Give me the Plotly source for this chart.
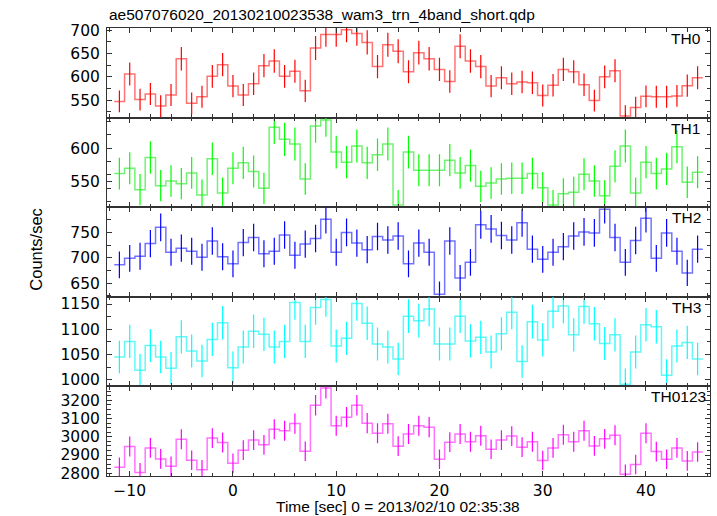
import plotly.graph_objects as go
from plotly.subplots import make_subplots

time = list(range(-11, 46))

th0 = [547, 606, 551, 563, 537, 561, 639, 543, 557, 601, 626, 580, 561, 585, 624, 634, 601, 612, 570, 662,
       691, 691, 701, 693, 674, 622, 669, 655, 611, 652, 639, 616, 590, 666, 634, 622, 580, 598, 585, 589,
       587, 560, 582, 616, 611, 583, 549, 600, 613, 516, 534, 558, 557, 557, 559, 581, 598]
th0_err = [23.4, 24.6, 23.5, 23.7, 23.2, 23.7, 25.3, 23.3, 23.6, 24.5, 25.0, 24.1, 23.7, 24.2, 25.0, 25.2, 24.5,
           24.7, 23.9, 25.7, 26.3, 26.3, 26.5, 26.3, 26.0, 24.9, 25.9, 25.6, 24.7, 25.5, 25.3, 24.8, 24.3, 25.8,
           25.2, 24.9, 24.1, 24.5, 24.2, 24.3, 24.2, 23.7, 24.1, 24.8, 24.7, 24.1, 23.4, 24.5, 24.8, 22.7, 23.1,
           23.6, 23.6, 23.6, 23.6, 24.1, 24.5]

th1 = [562, 570, 538, 586, 544, 551, 547, 563, 530, 584, 533, 570, 578, 565, 540, 631, 613, 606, 554, 633,
       642, 594, 579, 603, 578, 590, 606, 515, 594, 567, 567, 567, 582, 563, 574, 543, 548, 554, 555, 555,
       562, 541, 515, 532, 534, 561, 551, 529, 573, 603, 533, 579, 562, 569, 602, 549, 564]
th1_err = [23.7, 23.9, 23.2, 24.2, 23.3, 23.5, 23.4, 23.7, 23.0, 24.2, 23.1, 23.9, 24.0, 23.8, 23.2, 25.1, 24.8,
           24.6, 23.5, 25.2, 25.3, 24.4, 24.1, 24.6, 24.0, 24.3, 24.6, 22.7, 24.4, 23.8, 23.8, 23.8, 24.1, 23.7,
           24.0, 23.3, 23.4, 23.5, 23.6, 23.6, 23.7, 23.3, 22.7, 23.1, 23.1, 23.7, 23.5, 23.0, 23.9, 24.6, 23.1,
           24.1, 23.7, 23.9, 24.5, 23.4, 23.7]

th2 = [686, 699, 703, 728, 760, 711, 719, 713, 701, 733, 702, 688, 730, 740, 708, 713, 745, 705, 727, 738,
       776, 711, 750, 729, 716, 742, 735, 743, 688, 729, 711, 628, 733, 660, 691, 765, 757, 744, 735, 769,
       717, 697, 711, 722, 743, 751, 749, 796, 740, 691, 734, 778, 699, 749, 713, 670, 717]
th2_err = [26.2, 26.4, 26.5, 27.0, 27.6, 26.7, 26.8, 26.7, 26.5, 27.1, 26.5, 26.2, 27.0, 27.2, 26.6, 26.7, 27.3,
           26.6, 27.0, 27.2, 27.9, 26.7, 27.4, 27.0, 26.8, 27.2, 27.1, 27.3, 26.2, 27.0, 26.7, 25.1, 27.1, 25.7,
           26.3, 27.7, 27.5, 27.3, 27.1, 27.7, 26.8, 26.4, 26.7, 26.9, 27.3, 27.4, 27.4, 28.2, 27.2, 26.3, 27.1,
           27.9, 26.4, 27.4, 26.7, 25.9, 26.8]

th3 = [1045, 1076, 1019, 1068, 1045, 1023, 1085, 1057, 1037, 1080, 1113, 1024, 1065, 1096, 1090, 1065, 1076,
       1153, 1076, 1143, 1159, 1067, 1082, 1151, 1112, 1071, 1065, 1041, 1126, 1117, 1140, 1071, 1071, 1126,
       1077, 1084, 1055, 1091, 1134, 1036, 1115, 1079, 1136, 1146, 1089, 1145, 1111, 1072, 1089, 991, 1055,
       1109, 1105, 1009, 1067, 1074, 1041]
th3_err = [32.3, 32.8, 31.9, 32.7, 32.3, 32.0, 32.9, 32.5, 32.2, 32.9, 33.4, 32.0, 32.6, 33.1, 33.0, 32.6, 32.8,
           34.0, 32.8, 33.8, 34.0, 32.7, 32.9, 33.9, 33.3, 32.7, 32.6, 32.3, 33.6, 33.4, 33.8, 32.7, 32.7, 33.6,
           32.8, 32.9, 32.5, 33.0, 33.7, 32.2, 33.4, 32.8, 33.7, 33.9, 33.0, 33.8, 33.3, 32.7, 33.0, 31.5, 32.5,
           33.3, 33.2, 31.8, 32.7, 32.8, 32.3]

th0123 = [2833, 2947, 2804, 2939, 2879, 2839, 2987, 2872, 2820, 2993, 2969, 2855, 2927, 2982, 2956, 3042, 3033,
          3073, 2921, 3174, 3268, 3061, 3108, 3173, 3075, 3020, 3072, 2949, 3015, 3061, 3053, 2877, 2971, 3015,
          2973, 3006, 2932, 2982, 3004, 2943, 2973, 2870, 2939, 3011, 2973, 3033, 2950, 2989, 3009, 2795, 2848,
          3020, 2919, 2877, 2939, 2868, 2917]
th0123_err = [53.2, 54.3, 53.0, 54.2, 53.7, 53.3, 54.7, 53.6, 53.1, 54.7, 54.5, 53.4, 54.1, 54.6, 54.4, 55.2, 55.1,
              55.4, 54.0, 56.3, 57.2, 55.3, 55.8, 56.3, 55.5, 55.0, 55.4, 54.3, 54.9, 55.3, 55.3, 53.6, 54.5, 54.9,
              54.5, 54.8, 54.1, 54.6, 54.8, 54.3, 54.5, 53.6, 54.2, 54.9, 54.5, 55.1, 54.3, 54.7, 54.9, 52.9, 53.4,
              55.0, 54.0, 53.6, 54.2, 53.6, 54.0]

band_names = ["TH0", "TH1", "TH2", "TH3", "TH0123"]
series = [th0, th1, th2, th3, th0123]
errors = [th0_err, th1_err, th2_err, th3_err, th0123_err]
colors = ["#ff0000", "#00ff00", "#0000ff", "#00ffff", "#ff00ff"]
step_colors = ["rgba(255,0,0,0.55)", "rgba(0,230,0,0.55)", "rgba(0,0,255,0.55)",
               "rgba(0,240,240,0.6)", "rgba(255,0,255,0.55)"]
y_ranges = [[512.3, 705], [511.9, 645.4], [623.0, 799.8], [986.8, 1164.4], [2785, 3277]]
y_dticks = [50, 50, 50, 50, 100]
y_minor = [25, 20, 25, 25, 25]
label_x = [0.988, 0.987, 0.988, 0.988, 0.997]

title_text = "ae507076020_20130210023538_wam3_trn_4band_short.qdp"
x_title = "Time [sec] 0 = 2013/02/10 02:35:38"
y_title = "Counts/sec"

FONT = "Liberation Sans, Arial, Helvetica, sans-serif"
TICKFONT = "DejaVu Sans, Liberation Sans, sans-serif"
FS = 15.5

fig = make_subplots(rows=5, cols=1, shared_xaxes=True, vertical_spacing=0)

for i in range(5):
    vals = series[i]
    edges = [t - 0.5 for t in time] + [time[-1] + 0.5]
    step_y = vals + [vals[-1]]
    fig.add_trace(go.Scatter(x=edges, y=step_y, mode="lines", line_shape="hv",
                             line=dict(color=step_colors[i], width=1.5),
                             hoverinfo="skip", showlegend=False), row=i + 1, col=1)
    fig.add_trace(go.Scatter(x=time, y=vals, mode="markers",
                             marker=dict(size=0.1, color="rgba(0,0,0,0)"),
                             error_y=dict(type="data", array=errors[i], visible=True,
                                          width=0, thickness=1.2, color=colors[i]),
                             showlegend=False), row=i + 1, col=1)

    fig.update_xaxes(row=i + 1, col=1, range=[-12.2, 46.2], tick0=0, dtick=10,
                     ticks="inside", ticklen=5, tickwidth=1.2, tickcolor="#333",
                     minor=dict(dtick=2, ticklen=3.5, tickwidth=1.2, tickcolor="#333", ticks="inside"),
                     showline=True, linecolor="#333", linewidth=1, mirror="allticks",
                     showgrid=False, zeroline=False,
                     showticklabels=(i == 4),
                     tickfont=dict(family=TICKFONT, size=FS, color="black"))
    fig.update_yaxes(row=i + 1, col=1, range=y_ranges[i], dtick=y_dticks[i], tick0=0,
                     ticks="inside", ticklen=5, tickwidth=1.2, tickcolor="#333",
                     minor=dict(dtick=y_minor[i], ticklen=3.5, tickwidth=1.2, tickcolor="#333", ticks="inside"),
                     showline=True, linecolor="#333", linewidth=1, mirror="allticks",
                     showgrid=False, zeroline=False, ticklabelstandoff=3,
                     tickfont=dict(family=TICKFONT, size=FS, color="black"))

    yref = "y domain" if i == 0 else "y%d domain" % (i + 1)
    xref = "x domain" if i == 0 else "x%d domain" % (i + 1)
    fig.add_annotation(text=band_names[i], xref=xref, yref=yref, x=label_x[i], y=1.0,
                       xanchor="right", yanchor="top", showarrow=False,
                       font=dict(family=FONT, size=FS, color="black"))

fig.add_annotation(text=title_text, xref="paper", yref="paper", x=0, y=1.03,
                   xanchor="left", yanchor="middle", showarrow=False,
                   font=dict(family=FONT, size=FS, color="black"))
fig.add_annotation(text=x_title, xref="paper", yref="paper", x=0.4826, y=-0.069,
                   xanchor="center", yanchor="middle", showarrow=False,
                   font=dict(family=FONT, size=FS, color="black"))
fig.add_annotation(text=y_title, xref="paper", yref="paper", x=-0.118, y=0.507,
                   xanchor="center", yanchor="middle", textangle=-90, showarrow=False,
                   font=dict(family=FONT, size=16.5, color="black"))

fig.update_layout(width=717, height=516, margin=dict(l=107, r=7, t=28, b=40),
                  paper_bgcolor="white", plot_bgcolor="white", showlegend=False,
                  font=dict(family=FONT, size=FS, color="black"))

fig.write_html("out.html", config={"displayModeBar": False},
               post_script="document.body.style.margin='0';document.body.style.overflow='hidden';")
